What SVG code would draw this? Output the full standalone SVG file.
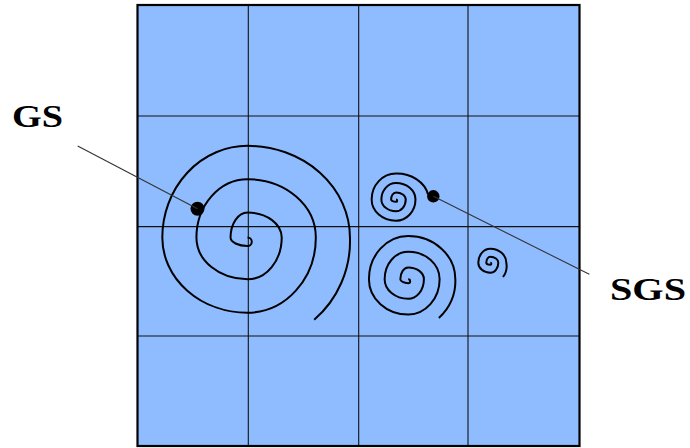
<svg xmlns="http://www.w3.org/2000/svg" width="690" height="448" viewBox="0 0 690 448">
<style>
.bg{fill:#ffffff}
.cell{fill:#8fbcff;stroke:none}
.grid{stroke:#111;stroke-width:1.1;fill:none}
.frame{fill:none;stroke:#000;stroke-width:2.2}
.spiral{fill:none;stroke:#000;stroke-width:2;stroke-linecap:butt}
.dot{fill:#000}
.leader{stroke:#333;stroke-width:1.1;fill:none}
.lbl{font-family:"Liberation Serif","Times New Roman",serif;font-weight:bold;font-size:32px;fill:#000}
</style>
<rect class="bg" x="0" y="0" width="690" height="448"/>
<g id="board">
<rect class="cell" x="137.5" y="5" width="442" height="441"/>
<g class="grid">
<line x1="248.3" y1="5" x2="248.3" y2="446"/>
<line x1="358.7" y1="5" x2="358.7" y2="446"/>
<line x1="468" y1="5" x2="468" y2="446"/>
<line x1="137.5" y1="116" x2="579.5" y2="116"/>
<line x1="137.5" y1="226.6" x2="579.5" y2="226.6"/>
<line x1="137.5" y1="336" x2="579.5" y2="336"/>
</g>
<rect class="frame" x="137.5" y="5" width="442" height="441"/>
</g>
<g id="spiral-gs">
<path class="spiral" d="M 247.6 237.6 A 4.17 4.17 0 0 1 247.6 245.94 A 17.06 8.34 0 0 1 230.54 237.6 A 17.06 25.02 0 0 1 247.6 212.58 A 34.12 25.02 0 0 1 281.72 237.6 A 34.12 41.71 0 0 1 247.6 279.31 A 51.17 41.71 0 0 1 196.43 237.6 A 51.17 58.39 0 0 1 247.6 179.21 A 68.23 58.39 0 0 1 315.83 237.6 A 68.23 75.07 0 0 1 247.6 312.67 A 85.29 75.07 0 0 1 162.31 237.6 A 85.29 91.75 0 0 1 247.6 145.85 A 102.35 91.75 0 0 1 349.95 237.6 A 104 104 0 0 1 314.2 319.8"/>
<circle class="dot" cx="197.5" cy="208.8" r="7"/>
</g>
<g id="spiral-sgs-1">
<path class="spiral" d="M 396 199.5 A 1.18 1.18 0 0 1 396 201.86 A 4.87 2.36 0 0 1 391.13 199.5 A 4.87 7.07 0 0 1 396 192.43 A 9.74 7.07 0 0 1 405.74 199.5 A 9.74 11.78 0 0 1 396 211.28 A 14.61 11.78 0 0 1 381.39 199.5 A 14.61 16.49 0 0 1 396 183.01 A 19.48 16.49 0 0 1 415.48 199.5 A 19.48 21.2 0 0 1 396 220.7 A 24.35 21.2 0 0 1 371.65 199.5 A 24.35 25.92 0 0 1 396 173.58 A 32 25.92 0 0 1 428 194.6"/>
<circle class="dot" cx="433.3" cy="196.3" r="6.2"/>
</g>
<g id="spiral-sgs-2">
<path class="spiral" d="M 408.2 279.2 A 1.96 1.96 0 0 1 408.2 283.13 A 7.85 3.93 0 0 1 400.35 279.2 A 7.85 11.78 0 0 1 408.2 267.42 A 15.71 11.78 0 0 1 423.91 279.2 A 15.71 19.63 0 0 1 408.2 298.83 A 23.56 19.63 0 0 1 384.64 279.2 A 23.56 27.49 0 0 1 408.2 251.71 A 31.42 27.49 0 0 1 439.62 279.2 A 31.42 35.34 0 0 1 408.2 314.54 A 39.27 35.34 0 0 1 368.93 279.2 A 39.27 43.2 0 0 1 408.2 236 A 47.12 43.2 0 0 1 455.32 279.2 A 48.5 48.5 0 0 1 438.86 317.88"/>
</g>
<g id="spiral-sgs-3">
<path class="spiral" d="M 490.3 262.7 A 1 1 0 0 1 490.3 264.7 A 4 2 0 0 1 486.3 262.7 A 4 6 0 0 1 490.3 256.7 A 8 6 0 0 1 498.3 262.7 A 8 10 0 0 1 490.3 272.7 A 12 10 0 0 1 478.3 262.7 A 12 14 0 0 1 490.3 248.7 A 16 14 0 0 1 506.3 262.7 A 18 18 0 0 1 503 277"/>
</g>
<g id="connectors">
<line class="leader" x1="77.7" y1="146" x2="197.5" y2="208.8"/>
<line class="leader" x1="433.3" y1="196.3" x2="589.3" y2="274.3"/>
</g>
<g id="label-gs">
<text class="lbl" x="12" y="127" textLength="51" lengthAdjust="spacingAndGlyphs">GS</text>
</g>
<g id="label-sgs">
<text class="lbl" x="610" y="300" textLength="76" lengthAdjust="spacingAndGlyphs">SGS</text>
</g>
</svg>
